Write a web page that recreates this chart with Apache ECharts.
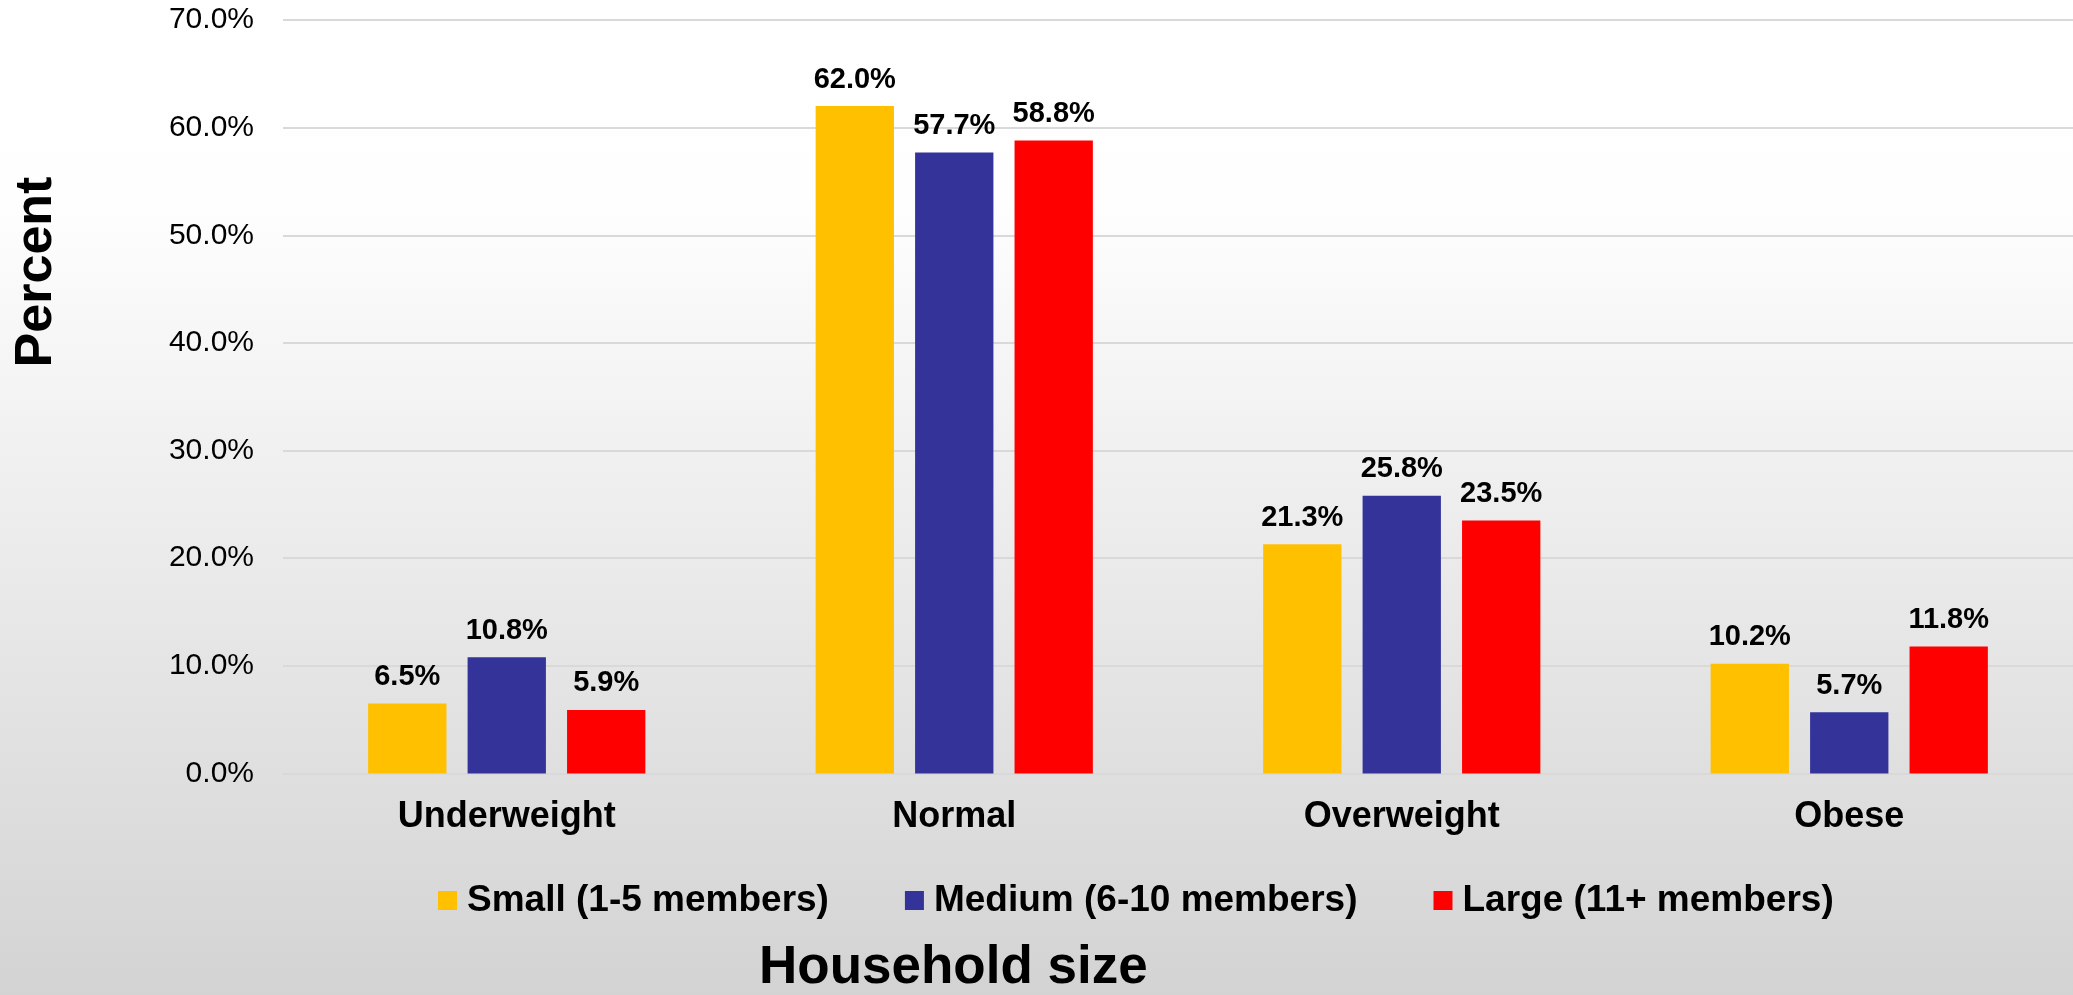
<!DOCTYPE html>
<html>
<head>
<meta charset="utf-8">
<script src="https://cdn.jsdelivr.net/npm/echarts@6/dist/echarts.min.js"></script>
<style>
  html, body { margin: 0; padding: 0; }
  #chart { width: 2073px; height: 995px; }
</style>
</head>
<body>
<div id="chart"></div>
<script>
// 数据
var categories = ['Underweight', 'Normal', 'Overweight', 'Obese'];
var seriesNames = ['Small (1-5 members)', 'Medium (6-10 members)', 'Large (11+ members)'];
var smallData = [6.5, 62.0, 21.3, 10.2];
var mediumData = [10.8, 57.7, 25.8, 5.7];
var largeData = [5.9, 58.8, 23.5, 11.8];
var yTitle = 'Percent';
var xTitle = 'Household size';

var FONT = '"Liberation Sans", Arial, sans-serif';

var chart = echarts.init(document.getElementById('chart'));

function makeSeries(name, data, color) {
    return {
        name: name,
        type: 'bar',
        data: data,
        barWidth: '17.5%',
        barGap: '27%',
        itemStyle: { color: color },
        label: {
            show: true,
            position: 'top',
            distance: 12,
            color: '#000',
            fontFamily: FONT,
            fontWeight: 'bold',
            fontSize: 29,
            formatter: function (p) { return p.value.toFixed(1) + '%'; }
        }
    };
}

var option = {
    backgroundColor: {
        type: 'linear', x: 0, y: 0, x2: 0, y2: 1,
        colorStops: [
            { offset: 0, color: '#ffffff' },
            { offset: 0.2, color: '#fefefe' },
            { offset: 1, color: '#d3d3d3' }
        ]
    },
    animation: false,
    textStyle: { fontFamily: FONT },
    grid: {
        left: 283,
        top: 20,
        width: 1800,
        bottom: 221.5,
        containLabel: false
    },
    legend: {
        data: seriesNames,
        left: 438,
        top: 882,
        padding: 0,
        itemWidth: 19,
        itemHeight: 19,
        itemGap: 76,
        icon: 'rect',
        textStyle: {
            fontFamily: FONT,
            fontWeight: 'bold',
            fontSize: 37,
            color: '#000',
            padding: [0, 0, 0, 5]
        }
    },
    title: {
        text: xTitle,
        left: 759,
        top: 942,
        padding: 0,
        textStyle: {
            fontFamily: FONT,
            fontWeight: 'bold',
            fontSize: 53,
            color: '#000'
        }
    },
    graphic: [{
        type: 'text',
        x: 37,
        y: 272,
        rotation: Math.PI / 2,
        style: {
            text: yTitle,
            font: 'bold 52px ' + FONT,
            fill: '#000',
            align: 'center',
            verticalAlign: 'middle'
        }
    }],
    xAxis: {
        type: 'category',
        data: categories,
        axisLine: { show: false },
        axisTick: { show: false },
        axisLabel: {
            margin: 26,
            color: '#000',
            fontFamily: FONT,
            fontWeight: 'bold',
            fontSize: 36
        }
    },
    yAxis: {
        type: 'value',
        min: 0,
        max: 70,
        interval: 10,
        axisLine: { show: false },
        axisTick: { show: false },
        splitLine: { lineStyle: { color: '#d9d9d9', width: 2 } },
        axisLabel: {
            margin: 29,
            color: '#000',
            fontFamily: FONT,
            fontSize: 30,
            formatter: function (v) { return v.toFixed(1) + '%'; }
        }
    },
    series: [
        makeSeries(seriesNames[0], smallData, '#ffc000'),
        makeSeries(seriesNames[1], mediumData, '#333399'),
        makeSeries(seriesNames[2], largeData, '#ff0000')
    ]
};

chart.setOption(option);
</script>
</body>
</html>
